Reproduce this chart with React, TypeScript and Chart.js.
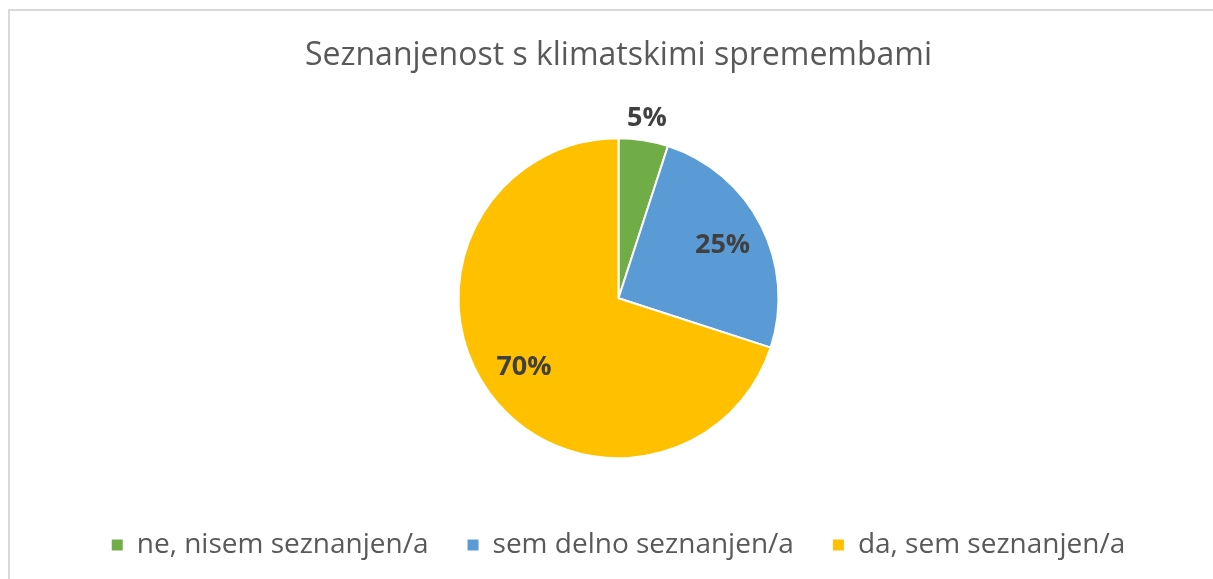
import React, { useEffect, useRef } from "react";
import { Chart, registerables } from "chart.js";

Chart.register(...registerables);

const TITLE = "Seznanjenost s klimatskimi spremembami";
const categories = ["ne, nisem seznanjen/a", "sem delno seznanjen/a", "da, sem seznanjen/a"];
const values = [5, 25, 70];
const colors = ["#70AD47", "#5B9BD5", "#FFC000"];
const FONT = "'Open Sans', 'Noto Sans', sans-serif";

const labelPlugin = {
  id: "sliceLabels",
  afterDatasetsDraw(chart: any) {
    const meta = chart.getDatasetMeta(0);
    const ctx = chart.ctx;
    const total = values.reduce((a, b) => a + b, 0);
    ctx.save();
    ctx.font = `bold 27px ${FONT}`;
    ctx.fillStyle = "#404040";
    ctx.textAlign = "center";
    ctx.textBaseline = "middle";
    meta.data.forEach((arc: any, i: number) => {
      const p = arc.getProps(["x", "y", "startAngle", "endAngle", "outerRadius"], true);
      const mid = (p.startAngle + p.endAngle) / 2;
      const pct = values[i] / total;
      const dist = pct < 0.1 ? p.outerRadius + 22 : p.outerRadius * 0.73;
      const x = p.x + Math.cos(mid) * dist;
      const y = p.y + Math.sin(mid) * dist;
      ctx.fillText(Math.round(pct * 100) + "%", x, y);
    });
    ctx.restore();
  },
};

export default function App() {
  const ref = useRef<HTMLCanvasElement>(null);
  useEffect(() => {
    if (!ref.current) return;
    const chart = new Chart(ref.current, {
      type: "pie",
      data: {
        labels: categories,
        datasets: [
          {
            data: values,
            backgroundColor: colors,
            borderColor: "#ffffff",
            borderWidth: 2,
            radius: 160,
          } as any,
        ],
      },
      options: {
        responsive: false,
        animation: false,
        layout: { padding: { top: 10, bottom: 10, left: 24, right: 0 } },
        plugins: {
          title: {
            display: true,
            text: TITLE,
            color: "#595959",
            font: { family: FONT, size: 32, weight: "normal" as any },
            padding: { top: 27, bottom: 29 },
          },
          legend: {
            display: true,
            position: "bottom",
            labels: {
              color: "#595959",
              font: { family: FONT, size: 28 },
              boxWidth: 11,
              boxHeight: 11,
              padding: 39,
              generateLabels: (chart: any) =>
                Chart.overrides.pie.plugins.legend.labels
                  .generateLabels(chart)
                  .map((item: any) => ({ ...item, lineWidth: 0, strokeStyle: item.fillStyle })),
            },
          },
          tooltip: { enabled: false },
        },
      },
      plugins: [labelPlugin],
    });
    return () => chart.destroy();
  }, []);
  return (
    <div style={{ position: "absolute", left: 0, top: 0, width: 1213, height: 579, overflow: "hidden", background: "#fff" }}>
      <div
        style={{
          position: "absolute",
          left: 8,
          top: 9,
          width: 1400,
          height: 800,
          borderTop: "2px solid #d9d9d9",
          borderLeft: "2px solid #d9d9d9",
        }}
      />
      <canvas ref={ref} width={1213} height={579} style={{ position: "absolute", left: 0, top: 0 }} />
    </div>
  );
}
